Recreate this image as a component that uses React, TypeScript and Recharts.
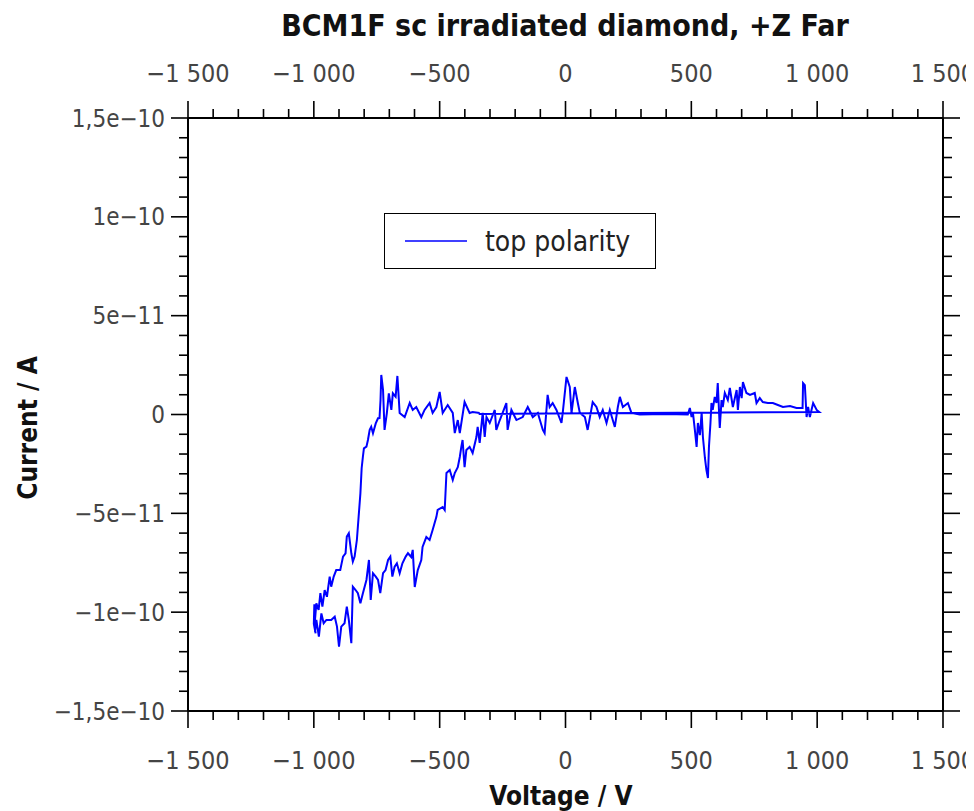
import React from 'react';
import { LineChart, Line, XAxis, YAxis, Legend } from 'recharts';

// Sweep voltage (V), in recorded order
const voltage = [
  -341, -369, -381, -401, -420, -428, -440, -448, -468, -488, -500, -513, -528, -540, -560, -573, -593, -607, -619, -639,
  -659, -668, -675, -686, -692, -702, -710, -719, -725, -732, -735, -739, -745, -754, -765, -772, -778, -785, -791, -801,
  -805, -810, -815, -822, -829, -838, -845, -851, -861, -869, -874, -884, -895, -911, -921, -931, -937, -948, -957, -966,
  -974, -981, -990, -997, -993, -1000, -998, -995,
  -990, -980, -970, -961, -950, -931, -917, -908, -900, -891, -878, -869, -861, -851, -845, -834, -825, -815, -805, -791,
  -781, -774, -765, -754, -745, -736, -725, -715, -705, -696, -688, -679, -670, -659, -648, -635, -626, -613, -607, -599,
  -587, -573, -568, -553, -540, -528, -513, -508, -488, -480, -473, -460, -448, -440, -428, -420, -414, -409, -401, -394,
  -381, -369, -354, -349, -341, -329, -321, -314, -301, -281, -275, -261, -235, -230, -215, -195, -170, -150, -130, -110,
  -90, -83, -71, -63, -51, -36, -16, -11, 4, 17, 24, 37, 49, 57, 77, 88, 108, 123, 136, 148,
  163, 176, 196, 208, 216, 228, 248, 262, 295, 395, 486, 494, 501, 506, 514, 521, 526, 534, 541, 546,
  554, 560, 566, 570, 576, 580, 585, 593, 600, 605, 613, 620, 625, 633, 645, 653, 665, 680, 685, 693,
  700, 705, 719, 733, 752, 759, 772, 784, 804, 824, 844, 864, 892, 918, 942, 944, 951, 958, 964, 971,
  984, 998, 1008, -345,
];

// Current in units of 1e-11 A, same order as voltage
const currentE11 = [
  0.08, 0.13, 0.08, 0.63, -0.94, -0.28, -0.94, 0.08, 0.48, 0.08, 1.14, 0.38, 0.08, 0.58, 0.23, -0.13, 0.38, 0.23, 0.58, -0.13,
  0.08, 1.95, 0.9, 1.07, 0.23, 1.07, 0.06, -0.78, 1.24, 2.0, 0.73, -0.18, -0.19, -0.45, -0.95, -0.62, -0.78, -1.29, -1.63, -1.71,
  -2.13, -2.72, -3.99, -5.17, -6.35, -7.19, -7.44, -7.02, -6.01, -6.18, -7.02, -7.19, -7.87, -7.87, -8.2, -8.71, -8.2, -9.22, -8.88, -9.72,
  -9.04, -9.89, -9.55, -10.65, -11.07, -10.6, -9.6, -11.0,
  -10.39, -11.24, -10.06, -10.56, -10.39, -10.39, -10.23, -10.73, -11.75, -10.73, -10.56, -9.72, -10.39, -11.57, -8.71, -8.88, -9.04, -9.55, -9.04, -8.37,
  -7.36, -9.38, -8.03, -8.2, -8.37, -9.04, -8.03, -7.87, -7.36, -7.19, -8.2, -7.7, -7.53, -8.03, -7.53, -7.19, -7.02, -7.21, -6.85, -8.73,
  -7.87, -7.36, -6.7, -6.2, -6.35, -5.84, -5.18, -4.83, -4.68, -4.83, -2.96, -2.81, -3.31, -2.96, -2.66, -2.15, -1.64, -1.29, -2.66, -1.8,
  -1.64, -1.95, -1.14, -0.63, -1.44, 0.08, -1.14, -0.13, -0.43, 0.23, -0.78, -0.28, 0.58, -0.78, 0.23, -0.28, -0.13, 0.38, -0.13, 0.08,
  -0.78, -0.94, 0.99, 0.38, 0.58, 0.23, -0.43, 0.08, 1.9, 1.39, 0.08, 1.39, 0.58, 0.08, -0.13, -0.78, 0.63, 0.38, -0.13, 0.23,
  -0.43, 0.23, -0.63, 0.38, 0.89, 0.38, 0.58, 0.08, 0.0, 0.03, 0.0, 0.33, -0.13, 0.13, -0.78, -1.64, -0.43, -1.04, 0.08, -1.14,
  -2.2, -2.81, -3.21, -1.64, -0.43, 0.58, 0.23, 0.89, 0.58, 1.59, -0.68, 0.73, 0.38, 1.09, 0.73, 1.34, 0.38, 1.24, 0.23, 1.39,
  0.83, 1.64, 1.09, 0.99, 1.09, 0.58, 0.83, 0.63, 0.58, 0.58, 0.48, 0.38, 0.43, 0.33, 0.33, 1.59, 1.49, -0.13, 0.38, -0.13,
  0.58, 0.23, 0.13, 0.03,
];

const xMajorTicks = [-1500, -1000, -500, 0, 500, 1000, 1500];
const xMajorLabels = ['−1 500', '−1 000', '−500', '0', '500', '1 000', '1 500'];
const yMajorTicksE11 = [-15, -10, -5, 0, 5, 10, 15];
const yMajorLabels = ['−1,5e−10', '−1e−10', '−5e−11', '0', '5e−11', '1e−10', '1,5e−10'];

const seriesName = 'top polarity';
const title = 'BCM1F sc irradiated diamond, +Z Far';
const xTitle = 'Voltage / V';
const yTitle = 'Current / A';

const data = voltage.map((v, i) => ({ v, cur: currentE11[i] * 1e-11 }));

const xAllTicks: number[] = [];
for (let k = -15; k <= 15; k++) xAllTicks.push(k * 100);
const yAllTicks: number[] = [];
for (let k = -15; k <= 15; k++) yAllTicks.push(k * 1e-11);

const FONT = '"DejaVu Sans Condensed", "DejaVu Sans", sans-serif';
const LABEL_COLOR = '#444';

const makeXTick = (orient: 'top' | 'bottom') => (props: any) => {
  const { x, y, payload } = props;
  const idx = xMajorTicks.indexOf(Math.round(payload.value));
  const major = idx >= 0;
  const len = major ? 17 : 9;
  const dir = orient === 'top' ? -1 : 1;
  return (
    <g>
      <line x1={x} y1={y} x2={x} y2={y + dir * len} stroke="#000" strokeWidth={1.6} />
      {major && (
        <text
          x={x}
          y={orient === 'top' ? y - 36 : y + 58}
          textAnchor="middle"
          fontFamily={FONT}
          fontSize={25}
          fill={LABEL_COLOR}
        >
          {xMajorLabels[idx]}
        </text>
      )}
    </g>
  );
};

const makeYTick = (orient: 'left' | 'right') => (props: any) => {
  const { x, y, payload } = props;
  const idx = yMajorTicksE11.indexOf(Math.round(payload.value * 1e11));
  const major = idx >= 0;
  const len = major ? 17 : 9;
  const dir = orient === 'left' ? -1 : 1;
  return (
    <g>
      <line x1={x} y1={y} x2={x + dir * len} y2={y} stroke="#000" strokeWidth={1.6} />
      {major && (
        <text
          x={orient === 'left' ? x - 23 : x + 27}
          y={y}
          dy="0.36em"
          textAnchor={orient === 'left' ? 'end' : 'start'}
          fontFamily={FONT}
          fontSize={24}
          fill={LABEL_COLOR}
        >
          {yMajorLabels[idx]}
        </text>
      )}
    </g>
  );
};

const LegendBox = (props: any) => {
  const item = (props.payload && props.payload[0]) || { value: seriesName, color: '#0000ff' };
  return (
    <div
      style={{
        width: 272,
        height: 56,
        boxSizing: 'border-box',
        border: '1.5px solid #000',
        background: '#fff',
        position: 'relative',
        fontFamily: FONT,
      }}
    >
      <svg width={272} height={56} style={{ position: 'absolute', left: 0, top: 0 }}>
        <line x1={20} y1={27} x2={82} y2={27} stroke={item.color} strokeWidth={1.6} />
        <text x={100} y={37} fontFamily={FONT} fontSize={28} fill="#222">
          {item.value}
        </text>
      </svg>
    </div>
  );
};

export default function App() {
  return (
    <div style={{ position: 'relative', width: 966, height: 803 }}>
      <LineChart width={966} height={803} data={data} margin={{ top: 0, right: 0, bottom: 0, left: 0 }}>
        <XAxis
          xAxisId="bottom"
          dataKey="v"
          type="number"
          orientation="bottom"
          domain={[-1500, 1500]}
          ticks={xAllTicks}
          interval={0}
          height={100}
          tickSize={0}
          tickMargin={0}
          tickLine={false}
          axisLine={{ stroke: '#000', strokeWidth: 2 }}
          tick={makeXTick('bottom')}
          allowDataOverflow
        />
        <XAxis
          xAxisId="top"
          dataKey="v"
          type="number"
          orientation="top"
          domain={[-1500, 1500]}
          ticks={xAllTicks}
          interval={0}
          height={110}
          tickSize={0}
          tickMargin={0}
          tickLine={false}
          axisLine={{ stroke: '#000', strokeWidth: 2 }}
          tick={makeXTick('top')}
          allowDataOverflow
        />
        <YAxis
          yAxisId="left"
          type="number"
          orientation="left"
          domain={[-1.5e-10, 1.5e-10]}
          ticks={yAllTicks}
          interval={0}
          width={180}
          tickSize={0}
          tickMargin={0}
          tickLine={false}
          axisLine={{ stroke: '#000', strokeWidth: 2 }}
          tick={makeYTick('left')}
          allowDataOverflow
        />
        <YAxis
          yAxisId="right"
          type="number"
          orientation="right"
          domain={[-1.5e-10, 1.5e-10]}
          ticks={yAllTicks}
          interval={0}
          width={31}
          tickSize={0}
          tickMargin={0}
          tickLine={false}
          axisLine={{ stroke: '#000', strokeWidth: 2 }}
          tick={makeYTick('right')}
          allowDataOverflow
        />
        <Legend
          layout="horizontal"
          verticalAlign="middle"
          align="center"
          wrapperStyle={{ left: 376, top: 205, width: 272, height: 56 }}
          content={<LegendBox />}
        />
        <Line
          xAxisId="bottom"
          yAxisId="left"
          dataKey="cur"
          name={seriesName}
          type="linear"
          stroke="#0000ff"
          strokeWidth={2}
          dot={false}
          activeDot={false}
          isAnimationActive={false}
        />
      </LineChart>
      <svg
        width={966}
        height={803}
        style={{ position: 'absolute', left: 0, top: 0, pointerEvents: 'none' }}
      >
        <text x={557} y={28} textAnchor="middle" fontFamily={FONT} fontWeight="bold" fontSize={30} fill="#111">
          {title}
        </text>
        <text x={553} y={797} textAnchor="middle" fontFamily={FONT} fontWeight="bold" fontSize={26} fill="#111">
          {xTitle}
        </text>
        <text
          x={29}
          y={420}
          textAnchor="middle"
          fontFamily={FONT}
          fontWeight="bold"
          fontSize={26}
          fill="#111"
          transform="rotate(-90, 29, 420)"
        >
          {yTitle}
        </text>
      </svg>
    </div>
  );
}
